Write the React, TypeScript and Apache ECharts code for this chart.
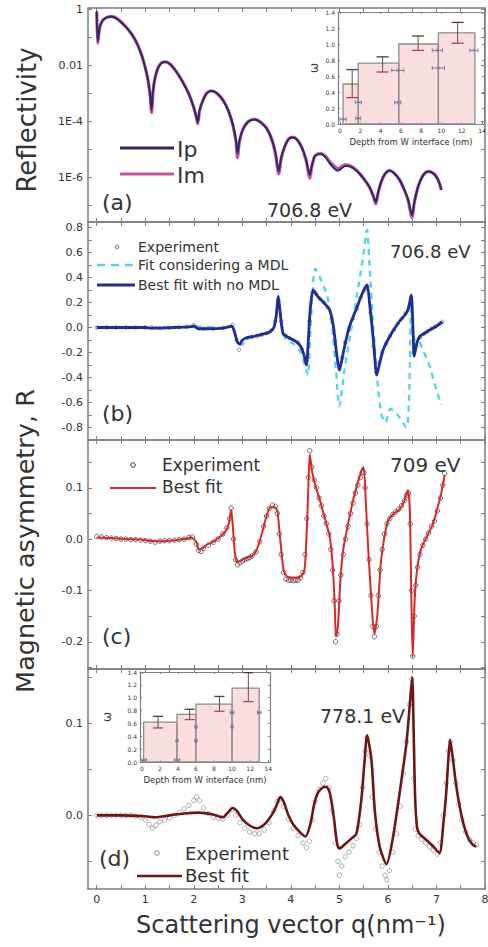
import React, { useEffect, useRef } from 'react';
import * as echarts from 'echarts';

// ---------- tick values ----------
const Q_LABELS = [0, 1, 2, 3, 4, 5, 6, 7, 8];
const Q_TICKS = [0, 0.5, 1, 1.5, 2, 2.5, 3, 3.5, 4, 4.5, 5, 5.5, 6, 6.5, 7, 7.5, 8];
const REFL_LABELS = [1, 0.01, 1e-4, 1e-6];
const REFL_TICKS = [1, 0.1, 0.01, 1e-3, 1e-4, 1e-5, 1e-6, 1e-7];
const B_LABELS = [-0.8, -0.6, -0.4, -0.2, 0, 0.2, 0.4, 0.6, 0.8];
const B_TICKS = [-0.9, -0.8, -0.7, -0.6, -0.5, -0.4, -0.3, -0.2, -0.1, 0, 0.1, 0.2, 0.3, 0.4, 0.5, 0.6, 0.7, 0.8];
const C_LABELS = [-0.2, -0.1, 0, 0.1];
const C_TICKS = [-0.25, -0.2, -0.15, -0.1, -0.05, 0, 0.05, 0.1, 0.15];
const D_LABELS = [0, 0.1];
const D_TICKS = [-0.05, 0, 0.05, 0.1, 0.15];
const DEPTH_LABELS = [0, 2, 4, 6, 8, 10, 12, 14];
const OMEGA_LABELS = [0, 0.2, 0.4, 0.6, 0.8, 1.0, 1.2, 1.4];

// ---------- panel (a): reflectivity ----------
const reflIp = [
  [0.0, 0.85], [0.02, 0.07], [0.06, 0.22], [0.12, 0.4], [0.2, 0.5], [0.3, 0.54], [0.42, 0.45], [0.55, 0.28],
  [0.68, 0.16], [0.8, 0.075], [0.9, 0.03], [0.98, 0.011], [1.05, 0.0035], [1.1, 0.0009], [1.13, 2.5e-4],
  [1.16, 0.0012], [1.2, 0.0035], [1.27, 0.0085], [1.35, 0.0125], [1.42, 0.013], [1.52, 0.0105], [1.64, 0.0058],
  [1.77, 0.0025], [1.9, 9e-4], [1.99, 3.5e-4], [2.05, 1.5e-4], [2.08, 9e-5], [2.12, 2.5e-4], [2.19, 5.5e-4],
  [2.27, 1e-3], [2.36, 1.2e-3], [2.47, 1e-3], [2.6, 5.6e-4], [2.72, 2.2e-4], [2.81, 7e-5], [2.87, 2e-5],
  [2.9, 7e-6], [2.94, 2e-5], [3.01, 5e-5], [3.12, 9.5e-5], [3.25, 1.15e-4], [3.38, 9e-5], [3.5, 5.5e-5],
  [3.61, 2.2e-5], [3.68, 8e-6], [3.75, 1.6e-6], [3.8, 5e-6], [3.87, 1.2e-5], [3.95, 2.2e-5], [4.03, 2.6e-5],
  [4.12, 2.2e-5], [4.22, 1.2e-5], [4.31, 4.5e-6], [4.36, 1.8e-6], [4.39, 1.2e-6], [4.43, 2.5e-6], [4.49, 5.4e-6],
  [4.56, 6.5e-6], [4.63, 6.6e-6], [4.72, 5e-6], [4.8, 3.1e-6], [4.9, 2e-6], [4.97, 1.7e-6], [5.05, 2.1e-6],
  [5.12, 2.5e-6], [5.18, 2.5e-6], [5.3, 2e-6], [5.41, 1.35e-6], [5.52, 8e-7], [5.62, 4.5e-7], [5.7, 2.2e-7],
  [5.75, 1.3e-7], [5.8, 3e-7], [5.86, 6.8e-7], [5.94, 1.3e-6], [6.03, 1.7e-6], [6.12, 1.4e-6], [6.24, 8e-7],
  [6.34, 3.5e-7], [6.42, 1.5e-7], [6.47, 6e-8], [6.5, 4.4e-8], [6.54, 1.2e-7], [6.62, 4.5e-7], [6.72, 1.1e-6],
  [6.82, 1.55e-6], [6.92, 1.4e-6], [7.0, 1e-6], [7.06, 6e-7], [7.1, 3.5e-7],
];
const reflIm = [
  [0.0, 0.8], [0.02, 0.06], [0.06, 0.21], [0.12, 0.39], [0.2, 0.5], [0.3, 0.55], [0.42, 0.46], [0.55, 0.29],
  [0.68, 0.16], [0.8, 0.076], [0.9, 0.031], [0.98, 0.011], [1.05, 0.0033], [1.1, 0.0008], [1.13, 2.0e-4],
  [1.16, 0.0011], [1.2, 0.0034], [1.27, 0.0086], [1.35, 0.0127], [1.42, 0.0132], [1.52, 0.0106], [1.64, 0.0059],
  [1.77, 0.0026], [1.9, 9.2e-4], [1.99, 3.4e-4], [2.05, 1.4e-4], [2.08, 8e-5], [2.12, 2.4e-4], [2.19, 5.6e-4],
  [2.27, 1.02e-3], [2.36, 1.22e-3], [2.47, 1.02e-3], [2.6, 5.7e-4], [2.72, 2.2e-4], [2.81, 6.5e-5], [2.87, 1.8e-5],
  [2.9, 5e-6], [2.94, 1.8e-5], [3.01, 5e-5], [3.12, 9.7e-5], [3.25, 1.17e-4], [3.38, 9.2e-5], [3.5, 5.6e-5],
  [3.61, 2.1e-5], [3.68, 7e-6], [3.75, 1.3e-6], [3.8, 4.5e-6], [3.87, 1.2e-5], [3.95, 2.3e-5], [4.03, 2.7e-5],
  [4.12, 2.3e-5], [4.22, 1.2e-5], [4.31, 4.2e-6], [4.36, 1.5e-6], [4.39, 9e-7], [4.43, 2.3e-6], [4.49, 5.6e-6],
  [4.56, 6.8e-6], [4.63, 7e-6], [4.72, 5.4e-6], [4.8, 3.6e-6], [4.9, 2.4e-6], [4.97, 2.0e-6], [5.05, 2.4e-6],
  [5.12, 2.8e-6], [5.18, 2.7e-6], [5.3, 2.1e-6], [5.41, 1.4e-6], [5.52, 8e-7], [5.62, 4.3e-7], [5.7, 2e-7],
  [5.75, 1.1e-7], [5.8, 2.8e-7], [5.86, 6.6e-7], [5.94, 1.3e-6], [6.03, 1.75e-6], [6.12, 1.45e-6], [6.24, 8e-7],
  [6.34, 3.4e-7], [6.42, 1.4e-7], [6.47, 5e-8], [6.5, 3.6e-8], [6.54, 1.1e-7], [6.62, 4.5e-7], [6.72, 1.15e-6],
  [6.82, 1.6e-6], [6.92, 1.45e-6], [7.0, 1.05e-6], [7.06, 6.2e-7], [7.1, 3.6e-7],
];

// ---------- panel (b): 706.8 eV asymmetry ----------
const bExperiment = [
  [0.0, 0.0], [0.2, 0.0], [0.4, 0.0], [0.6, 0.0], [0.8, 0.0], [1.0, 0.0], [1.13, 0.0], [1.3, -0.005], [1.5, -0.003],
  [1.7, 0.0], [1.85, 0.005], [2.0, 0.02], [2.1, -0.005], [2.2, -0.01], [2.4, -0.008], [2.6, -0.003], [2.8, 0.02],
  [2.88, -0.1], [2.93, -0.18], [3.0, -0.13], [3.1, -0.085], [3.2, -0.075], [3.3, -0.07], [3.4, -0.058], [3.5, -0.045],
  [3.6, -0.02], [3.68, 0.05], [3.74, 0.22], [3.8, 0.05], [3.88, -0.06], [3.97, -0.085], [4.05, -0.1], [4.15, -0.12],
  [4.22, -0.17], [4.3, -0.28], [4.38, 0.05], [4.45, 0.28], [4.52, 0.27], [4.6, 0.23], [4.68, 0.2], [4.76, 0.16],
  [4.84, 0.07], [4.9, -0.1], [4.96, -0.28], [5.0, -0.33], [5.06, -0.24], [5.12, -0.12], [5.2, -0.02], [5.28, 0.07],
  [5.36, 0.15], [5.44, 0.24], [5.52, 0.3], [5.58, 0.33], [5.64, 0.12], [5.7, -0.15], [5.76, -0.36], [5.82, -0.28],
  [5.88, -0.2], [5.96, -0.13], [6.04, -0.07], [6.12, -0.02], [6.2, 0.03], [6.28, 0.07], [6.36, 0.11], [6.44, 0.17],
  [6.48, 0.24], [6.53, -0.2], [6.58, -0.14], [6.66, -0.08], [6.74, -0.05], [6.82, -0.03], [6.9, -0.01], [6.98, 0.01],
  [7.06, 0.03], [7.12, 0.045],
];
const bFitMDL = [
  [0, 0], [1.0, 0.0], [2.0, 0.01], [2.6, -0.005], [2.78, 0.01], [2.9, -0.12], [2.97, -0.14], [3.1, -0.09], [3.3, -0.07],
  [3.5, -0.05], [3.65, 0.0], [3.74, 0.2], [3.8, 0.05], [3.9, -0.1], [4.05, -0.13], [4.2, -0.2], [4.3, -0.32],
  [4.35, -0.38], [4.42, 0.1], [4.5, 0.47], [4.6, 0.4], [4.75, 0.25], [4.85, 0.0], [4.93, -0.35], [5.0, -0.63],
  [5.1, -0.35], [5.25, 0.0], [5.4, 0.35], [5.5, 0.6], [5.57, 0.78], [5.62, 0.5], [5.7, 0.0], [5.8, -0.5], [5.87, -0.7],
  [5.95, -0.76], [6.05, -0.65], [6.2, -0.7], [6.38, -0.8], [6.44, -0.5], [6.48, 0.2], [6.53, -0.1], [6.62, -0.1],
  [6.72, -0.18], [6.85, -0.3], [7.0, -0.5], [7.1, -0.62],
];
const bBestFit = [
  [0, 0], [0.5, 0], [1.0, 0.0], [1.13, -0.005], [1.3, -0.005], [1.6, 0.0], [1.9, 0.005], [2.0, 0.01], [2.1, -0.01],
  [2.3, -0.01], [2.6, -0.005], [2.78, 0.01], [2.85, -0.05], [2.9, -0.12], [2.95, -0.13], [3.0, -0.1], [3.1, -0.08],
  [3.25, -0.07], [3.4, -0.055], [3.55, -0.04], [3.65, 0.0], [3.7, 0.1], [3.74, 0.25], [3.78, 0.12], [3.84, -0.05],
  [3.95, -0.08], [4.1, -0.11], [4.2, -0.15], [4.27, -0.22], [4.32, -0.3], [4.36, -0.1], [4.4, 0.15], [4.46, 0.3],
  [4.55, 0.25], [4.7, 0.19], [4.8, 0.14], [4.88, 0.0], [4.94, -0.2], [5.0, -0.34], [5.08, -0.2], [5.2, 0.0],
  [5.35, 0.15], [5.48, 0.28], [5.57, 0.34], [5.62, 0.2], [5.7, -0.1], [5.77, -0.38], [5.82, -0.3], [5.9, -0.18],
  [5.97, -0.12], [6.1, -0.03], [6.24, 0.05], [6.35, 0.1], [6.42, 0.15], [6.48, 0.26], [6.52, -0.05], [6.54, -0.23],
  [6.6, -0.12], [6.66, -0.07], [6.78, -0.04], [6.9, -0.01], [7.0, 0.01], [7.12, 0.045],
];

// ---------- panel (c): 709 eV ----------
const cExperiment = [
  [0, 0.005], [0.1, 0.004], [0.2, 0.003], [0.3, 0.002], [0.4, 0.001], [0.5, 0.0], [0.6, 0.0], [0.7, -0.001],
  [0.8, -0.001], [0.9, -0.002], [1.0, -0.003], [1.1, -0.004], [1.2, -0.006], [1.3, -0.004], [1.4, -0.003],
  [1.5, -0.003], [1.6, -0.002], [1.7, -0.001], [1.8, 0.0], [1.9, 0.003], [1.97, 0.004], [2.05, -0.01], [2.1, -0.022],
  [2.15, -0.024], [2.2, -0.018], [2.3, -0.012], [2.4, -0.006], [2.5, 0.0], [2.6, 0.01], [2.68, 0.022], [2.74, 0.04],
  [2.77, 0.06], [2.82, 0.0], [2.86, -0.04], [2.9, -0.05], [2.95, -0.046], [3.0, -0.043], [3.05, -0.04], [3.1, -0.038],
  [3.15, -0.036], [3.2, -0.033], [3.28, -0.025], [3.36, -0.005], [3.44, 0.025], [3.5, 0.045], [3.56, 0.06],
  [3.62, 0.066], [3.68, 0.064], [3.72, 0.05], [3.76, 0.01], [3.8, -0.03], [3.85, -0.065], [3.9, -0.078], [3.95, -0.08],
  [4.0, -0.08], [4.05, -0.081], [4.1, -0.08], [4.15, -0.08], [4.2, -0.075], [4.25, -0.065], [4.29, -0.03],
  [4.33, 0.04], [4.36, 0.12], [4.39, 0.172], [4.43, 0.14], [4.48, 0.115], [4.53, 0.1], [4.58, 0.08], [4.63, 0.065],
  [4.68, 0.045], [4.73, 0.03], [4.78, 0.01], [4.82, -0.02], [4.86, -0.06], [4.89, -0.12], [4.92, -0.2], [4.95, -0.185],
  [4.99, -0.12], [5.03, -0.07], [5.08, -0.03], [5.13, 0.0], [5.18, 0.025], [5.23, 0.05], [5.28, 0.07], [5.33, 0.09],
  [5.38, 0.105], [5.43, 0.12], [5.47, 0.13], [5.5, 0.13], [5.53, 0.1], [5.57, 0.03], [5.61, -0.04], [5.65, -0.11],
  [5.69, -0.17], [5.72, -0.19], [5.76, -0.17], [5.8, -0.11], [5.84, -0.06], [5.88, -0.02], [5.93, 0.01], [5.98, 0.03],
  [6.04, 0.04], [6.1, 0.048], [6.16, 0.053], [6.22, 0.058], [6.28, 0.065], [6.34, 0.075], [6.38, 0.085], [6.42, 0.09],
  [6.46, 0.03], [6.49, -0.1], [6.51, -0.228], [6.54, -0.15], [6.57, -0.09], [6.61, -0.055], [6.66, -0.03],
  [6.72, -0.012], [6.78, 0.0], [6.84, 0.012], [6.9, 0.025], [6.96, 0.035], [7.02, 0.055], [7.08, 0.08], [7.13, 0.105],
  [7.17, 0.128],
];
const cBestFit = [
  [0, 0.003], [0.3, 0.002], [0.6, 0.0], [0.9, -0.001], [1.2, -0.004], [1.5, -0.003], [1.8, 0.0], [1.95, 0.003],
  [2.05, -0.005], [2.1, -0.02], [2.15, -0.02], [2.25, -0.012], [2.4, -0.005], [2.55, 0.005], [2.65, 0.015],
  [2.72, 0.03], [2.77, 0.057], [2.8, 0.03], [2.85, -0.03], [2.9, -0.045], [3.0, -0.04], [3.1, -0.036], [3.2, -0.033],
  [3.3, -0.02], [3.4, 0.01], [3.5, 0.045], [3.58, 0.062], [3.66, 0.062], [3.72, 0.055], [3.78, 0.0], [3.85, -0.06],
  [3.92, -0.073], [4.05, -0.075], [4.2, -0.073], [4.28, -0.06], [4.32, 0.0], [4.36, 0.1], [4.39, 0.165], [4.44, 0.13],
  [4.52, 0.1], [4.6, 0.075], [4.7, 0.04], [4.8, 0.005], [4.86, -0.05], [4.9, -0.12], [4.93, -0.19], [4.97, -0.17],
  [5.02, -0.08], [5.08, -0.02], [5.18, 0.03], [5.28, 0.075], [5.38, 0.11], [5.46, 0.135], [5.5, 0.14], [5.54, 0.08],
  [5.6, -0.03], [5.66, -0.12], [5.72, -0.185], [5.78, -0.15], [5.85, -0.05], [5.92, 0.0], [6.0, 0.035], [6.12, 0.05],
  [6.24, 0.058], [6.34, 0.075], [6.41, 0.095], [6.45, 0.06], [6.48, -0.1], [6.51, -0.23], [6.55, -0.12], [6.6, -0.06],
  [6.68, -0.02], [6.8, 0.005], [6.93, 0.03], [7.02, 0.06], [7.1, 0.09], [7.17, 0.125],
];

// ---------- panel (d): 778.1 eV ----------
const dExperiment = [
  [0, 0.0], [0.1, 0.0], [0.2, 0.0], [0.3, 0.0], [0.4, 0.0], [0.5, 0.0], [0.6, 0.0], [0.7, 0.0], [0.8, -0.001],
  [0.9, -0.002], [1.0, -0.005], [1.08, -0.01], [1.15, -0.014], [1.22, -0.011], [1.3, -0.007], [1.4, -0.005],
  [1.5, -0.003], [1.6, 0.0], [1.7, 0.003], [1.8, 0.007], [1.9, 0.011], [2.0, 0.016], [2.06, 0.02], [2.12, 0.016],
  [2.2, 0.008], [2.3, 0.002], [2.4, -0.002], [2.5, -0.003], [2.6, -0.004], [2.7, 0.0], [2.78, 0.006], [2.86, 0.0],
  [2.95, -0.008], [3.05, -0.014], [3.15, -0.018], [3.25, -0.02], [3.35, -0.02], [3.45, -0.016], [3.55, -0.008],
  [3.65, 0.005], [3.72, 0.015], [3.78, 0.018], [3.85, 0.01], [3.95, -0.004], [4.05, -0.014], [4.15, -0.022],
  [4.25, -0.03], [4.32, -0.035], [4.38, -0.028], [4.44, -0.005], [4.5, 0.015], [4.58, 0.028], [4.66, 0.035],
  [4.72, 0.04], [4.78, 0.03], [4.85, 0.005], [4.92, -0.03], [4.97, -0.05], [5.0, -0.065], [5.05, -0.055],
  [5.12, -0.045], [5.2, -0.04], [5.28, -0.033], [5.35, -0.025], [5.42, -0.01], [5.48, 0.03], [5.53, 0.07],
  [5.57, 0.084], [5.62, 0.065], [5.68, 0.02], [5.75, -0.015], [5.82, -0.04], [5.88, -0.055], [5.94, -0.065],
  [5.98, -0.07], [6.03, -0.06], [6.1, -0.04], [6.18, -0.02], [6.25, 0.01], [6.32, 0.045], [6.38, 0.08], [6.44, 0.12],
  [6.49, 0.148], [6.53, 0.04], [6.57, -0.015], [6.62, -0.022], [6.7, -0.026], [6.78, -0.03], [6.86, -0.034],
  [6.94, -0.038], [7.02, -0.042], [7.08, -0.03], [7.14, 0.0], [7.2, 0.035], [7.25, 0.07], [7.29, 0.08], [7.34, 0.06],
  [7.4, 0.035], [7.46, 0.012], [7.52, -0.005], [7.6, -0.018], [7.68, -0.026], [7.76, -0.03], [7.82, -0.032],
];
const dBestFit = [
  [0, 0.0], [0.5, 0.0], [1.0, -0.001], [1.2, -0.002], [1.5, 0.0], [1.8, 0.002], [2.1, 0.003], [2.4, 0.001],
  [2.6, -0.002], [2.7, 0.003], [2.8, 0.008], [2.9, 0.004], [3.0, -0.004], [3.15, -0.011], [3.3, -0.014],
  [3.45, -0.01], [3.6, 0.0], [3.7, 0.01], [3.78, 0.02], [3.85, 0.015], [3.95, 0.0], [4.05, -0.01], [4.18, -0.018],
  [4.3, -0.023], [4.4, -0.01], [4.48, 0.012], [4.56, 0.025], [4.65, 0.03], [4.73, 0.031], [4.8, 0.025], [4.88, 0.0],
  [4.95, -0.03], [5.0, -0.036], [5.1, -0.032], [5.25, -0.025], [5.35, -0.02], [5.45, 0.016], [5.52, 0.06],
  [5.57, 0.087], [5.66, 0.06], [5.73, 0.005], [5.83, -0.034], [5.97, -0.053], [6.1, -0.025], [6.24, 0.024],
  [6.38, 0.078], [6.45, 0.12], [6.5, 0.15], [6.53, 0.09], [6.56, 0.02], [6.6, -0.013], [6.65, -0.02], [6.8, -0.027],
  [6.92, -0.033], [7.06, -0.041], [7.14, -0.01], [7.2, 0.024], [7.25, 0.065], [7.28, 0.082], [7.33, 0.065],
  [7.4, 0.035], [7.48, 0.009], [7.56, -0.01], [7.65, -0.024], [7.75, -0.032], [7.82, -0.034],
];

// ---------- insets: omega vs depth ----------
// [x0, x1, omega]
const insetABars = [[0.3, 1.8, 0.5], [1.8, 5.8, 0.76], [5.8, 9.7, 1.0], [9.7, 13.3, 1.14]];
// [x, low, high]
const insetAErrors = [[1.2, 0.33, 0.68], [4.2, 0.65, 0.84], [7.7, 0.92, 1.1], [11.6, 1.01, 1.27]];
// [x, y, half width]
const insetAMarks = [[0.3, 0.06, 0.3], [1.8, 0.07, 0.25], [1.8, 0.27, 0.3], [5.7, 0.67, 0.6], [5.7, 0.27, 0.3],
  [9.6, 0.92, 0.5], [9.7, 0.7, 0.6], [13.2, 0.92, 0.4]];
const insetDBars = [[0.2, 3.9, 0.62], [3.9, 6.0, 0.74], [6.0, 10.0, 0.9], [10.0, 13.0, 1.15]];
const insetDErrors = [[1.8, 0.53, 0.71], [5.3, 0.66, 0.82], [8.6, 0.79, 1.02], [11.8, 0.94, 1.39]];
const insetDMarks = [[0.2, 0.03, 0.3], [3.9, 0.03, 0.3], [3.9, 0.33, 0.1], [6.0, 0.55, 0.1], [6.0, 0.33, 0.1],
  [10.0, 0.77, 0.2], [10.0, 0.55, 0.1], [13.0, 0.77, 0.2]];

const FONT = "'DejaVu Sans', sans-serif";
const FRAME = '#7d7d7d';
const TXT = '#333333';

function buildOption() {
  const grids = [
    { left: 88, right: 3, top: 8, height: 214 },
    { left: 88, right: 3, top: 222, height: 218 },
    { left: 88, right: 3, top: 440, height: 229 },
    { left: 88, right: 3, top: 669, height: 220 },
    { left: 338, width: 146, top: 12, height: 112 },
    { left: 140, width: 130, top: 672, height: 90 },
  ].map((g) => ({ ...g, outerBoundsMode: 'none', containLabel: false }));

  const axisLine = (w = 1.5) => ({ show: true, onZero: false, lineStyle: { color: FRAME, width: w } });

  const mainX = (gi: number, pos: string, labels: boolean) => ({
    type: 'value', gridIndex: gi, position: pos, min: -0.18, max: 8,
    axisLine: axisLine(), splitLine: { show: false },
    axisTick: { show: true, inside: true, length: 4, customValues: Q_TICKS, lineStyle: { color: FRAME } },
    axisLabel: { show: labels, customValues: Q_LABELS, fontSize: 11, fontFamily: FONT, color: TXT, margin: 5 },
  });
  const insetX = (gi: number, pos: string, labels: boolean) => ({
    type: 'value', gridIndex: gi, position: pos, min: -0.2, max: 14.2,
    axisLine: axisLine(1.2), splitLine: { show: false },
    axisTick: { show: true, inside: true, length: 2, customValues: DEPTH_LABELS, lineStyle: { color: FRAME } },
    axisLabel: { show: labels, customValues: DEPTH_LABELS, fontSize: 6, fontFamily: FONT, color: TXT, margin: 3 },
    name: labels ? 'Depth from W interface (nm)' : '', nameLocation: 'middle', nameGap: 13,
    nameTextStyle: { fontSize: 8.5, fontFamily: FONT, color: TXT },
  });
  const valY = (gi: number, pos: string, min: number, max: number, labels: number[], ticks: number[], show: boolean) => ({
    type: 'value', gridIndex: gi, position: pos, min, max,
    axisLine: axisLine(), splitLine: { show: false },
    axisTick: { show: true, inside: true, length: 4, customValues: ticks, lineStyle: { color: FRAME } },
    axisLabel: { show, customValues: labels, fontSize: 11, fontFamily: FONT, color: TXT, margin: 5,
      formatter: (v: number) => v.toFixed(1) },
  });
  const logY = (pos: string, show: boolean) => ({
    type: 'log', logBase: 10, gridIndex: 0, position: pos, min: 2.5e-8, max: 1.1,
    axisLine: axisLine(), splitLine: { show: false }, minorTick: { show: false },
    axisTick: { show: true, inside: true, length: 4, customValues: REFL_TICKS, lineStyle: { color: FRAME } },
    axisLabel: { show, customValues: REFL_LABELS, fontSize: 11, fontFamily: FONT, color: TXT, margin: 5,
      formatter: (v: number) => (v > 0.5 ? '1' : v > 0.005 ? '0.01' : '1E' + Math.round(Math.log10(v))) },
  });
  const insetY = (gi: number, pos: string, labels: boolean, gap: number) => ({
    type: 'value', gridIndex: gi, position: pos, min: 0, max: 1.4,
    axisLine: axisLine(1.2), splitLine: { show: false },
    axisTick: { show: true, inside: true, length: 2, customValues: OMEGA_LABELS, lineStyle: { color: FRAME } },
    axisLabel: { show: labels, customValues: OMEGA_LABELS, fontSize: 6, fontFamily: FONT, color: TXT, margin: 3,
      formatter: (v: number) => v.toFixed(1) },
    name: labels ? 'ω' : '', nameLocation: 'middle', nameGap: gap, nameRotate: 90,
    nameTextStyle: { fontSize: 12, fontFamily: FONT, color: TXT },
  });

  const xAxis = [
    mainX(0, 'bottom', false), mainX(1, 'bottom', false), mainX(2, 'bottom', false), mainX(3, 'bottom', true),
    mainX(0, 'top', false), mainX(1, 'top', false), mainX(2, 'top', false), mainX(3, 'top', false),
    insetX(4, 'bottom', true), insetX(5, 'bottom', true), insetX(4, 'top', false), insetX(5, 'top', false),
  ];
  const yAxis = [
    logY('left', true),
    valY(1, 'left', -0.9, 0.844, B_LABELS, B_TICKS, true),
    valY(2, 'left', -0.253, 0.193, C_LABELS, C_TICKS, true),
    valY(3, 'left', -0.08, 0.159, D_LABELS, D_TICKS, true),
    logY('right', false),
    valY(1, 'right', -0.9, 0.844, B_LABELS, B_TICKS, false),
    valY(2, 'right', -0.253, 0.193, C_LABELS, C_TICKS, false),
    valY(3, 'right', -0.08, 0.159, D_LABELS, D_TICKS, false),
    insetY(4, 'left', true, 18), insetY(5, 'left', true, 27), insetY(4, 'right', false, 0), insetY(5, 'right', false, 0),
  ];

  const barRender = (_p: any, api: any) => {
    const a = api.coord([api.value(0), api.value(2)]);
    const b = api.coord([api.value(1), 0]);
    return { type: 'rect', shape: { x: a[0], y: a[1], width: b[0] - a[0], height: b[1] - a[1] },
      style: { fill: 'rgba(248,200,200,0.6)', stroke: '#8c8c8c', lineWidth: 1.3 } };
  };
  const errRender = (cap: number) => (_p: any, api: any) => {
    const x = api.value(0);
    const lo = api.coord([x, api.value(1)]);
    const hi = api.coord([x, api.value(2)]);
    return { type: 'group', children: [
      { type: 'line', shape: { x1: lo[0], y1: lo[1], x2: hi[0], y2: hi[1] }, style: { stroke: '#6a4a4a', lineWidth: 1 } },
      { type: 'line', shape: { x1: hi[0] - cap, y1: hi[1], x2: hi[0] + cap, y2: hi[1] }, style: { stroke: '#5a3a3a', lineWidth: 1.3 } },
      { type: 'line', shape: { x1: lo[0] - cap, y1: lo[1], x2: lo[0] + cap, y2: lo[1] }, style: { stroke: '#b04444', lineWidth: 1.3 } },
    ] };
  };
  const markRender = (_p: any, api: any) => {
    const x = api.value(0), y = api.value(1), hw = api.value(2);
    const l = api.coord([x - hw, y]);
    const r = api.coord([x + hw, y]);
    const c = api.coord([x, y]);
    const st = { stroke: '#7a78a8', lineWidth: 1 };
    return { type: 'group', children: [
      { type: 'line', shape: { x1: l[0], y1: l[1], x2: r[0], y2: r[1] }, style: st },
      { type: 'line', shape: { x1: l[0], y1: l[1] - 2, x2: l[0], y2: l[1] + 2 }, style: st },
      { type: 'line', shape: { x1: r[0], y1: r[1] - 2, x2: r[0], y2: r[1] + 2 }, style: st },
      { type: 'circle', shape: { cx: c[0], cy: c[1], r: 1.3 }, style: { fill: 'none', stroke: '#7a78a8', lineWidth: 0.8 } },
    ] };
  };

  const line = (data: number[][], xi: number, yi: number, color: string, width: number, extra: any = {}) => ({
    type: 'line', xAxisIndex: xi, yAxisIndex: yi, data, showSymbol: false, symbol: 'none', smooth: 0.25,
    lineStyle: { color, width, ...(extra.lineStyle || {}) }, z: extra.z || 3, clip: true,
  });
  const scatter = (data: number[][], xi: number, yi: number, color: string, size: number) => ({
    type: 'scatter', xAxisIndex: xi, yAxisIndex: yi, data, symbol: 'circle', symbolSize: size,
    itemStyle: { color: 'rgba(255,255,255,0)', borderColor: color, borderWidth: 0.9 }, z: 2,
  });

  const series: any[] = [
    line(reflIm, 0, 0, '#c9529a', 3.2, { z: 3 }),
    line(reflIp, 0, 0, '#2c2b66', 2, { z: 4 }),
    scatter(bExperiment, 1, 1, '#666', 3.5),
    line(bFitMDL, 1, 1, '#52d3e6', 2.3, { lineStyle: { type: [6, 5] }, z: 3 }),
    line(bBestFit, 1, 1, '#1f2e96', 2.8, { z: 4 }),
    scatter(cExperiment, 2, 2, '#333', 4.5),
    line(cBestFit, 2, 2, '#d8282c', 2, { z: 3 }),
    scatter(dExperiment, 3, 3, '#888', 4.5),
    line(dBestFit, 3, 3, '#6e1515', 2.6, { z: 3 }),
    { type: 'custom', xAxisIndex: 8, yAxisIndex: 8, data: insetABars, renderItem: barRender, z: 2 },
    { type: 'custom', xAxisIndex: 8, yAxisIndex: 8, data: insetAErrors, renderItem: errRender(6), z: 3 },
    { type: 'custom', xAxisIndex: 8, yAxisIndex: 8, data: insetAMarks, renderItem: markRender, z: 3 },
    { type: 'custom', xAxisIndex: 9, yAxisIndex: 9, data: insetDBars, renderItem: barRender, z: 2 },
    { type: 'custom', xAxisIndex: 9, yAxisIndex: 9, data: insetDErrors, renderItem: errRender(5), z: 3 },
    { type: 'custom', xAxisIndex: 9, yAxisIndex: 9, data: insetDMarks, renderItem: markRender, z: 3 },
  ];

  const txt = (text: string, x: number, y: number, size: number, extra: any = {}) => ({
    type: 'text', x, y, rotation: extra.rotation || 0, z: 10,
    style: { text, fontSize: size, fontFamily: FONT, fill: extra.fill || TXT,
      align: extra.align || 'left', verticalAlign: 'middle',
      textAlign: extra.align || 'left', textVerticalAlign: 'middle' },
  });
  const seg = (x1: number, y1: number, x2: number, y2: number, color: string, w: number, dash?: number[]) => ({
    type: 'line', z: 10, shape: { x1, y1, x2, y2 }, style: { stroke: color, lineWidth: w, lineDash: dash },
  });
  const ring = (cx: number, cy: number, r: number, color: string) => ({
    type: 'circle', z: 10, shape: { cx, cy, r }, style: { fill: 'none', stroke: color, lineWidth: 1 },
  });

  const graphic = [
    txt('Reflectivity', 27, 120, 26, { rotation: Math.PI / 2, align: 'center' }),
    txt('Magnetic asymmetry, R', 25, 541, 25.5, { rotation: Math.PI / 2, align: 'center' }),
    txt('Scattering vector q(nm⁻¹)', 291, 925, 24, { align: 'center' }),
    // panel (a)
    seg(120, 148, 174, 148, '#2c2b66', 3),
    txt('Ip', 177, 149, 22),
    seg(120, 174, 174, 174, '#c9529a', 3),
    txt('Im', 177, 175, 22),
    txt('(a)', 102, 202, 22),
    txt('706.8 eV', 267, 210, 19),
    // panel (b)
    ring(117, 247, 1.8, '#666'),
    txt('Experiment', 138, 247, 14),
    seg(97, 265, 135, 265, '#52d3e6', 2.3, [8, 6]),
    txt('Fit considering a MDL', 138, 265, 14),
    seg(97, 285, 135, 285, '#1f2e96', 2.8),
    txt('Best fit with no MDL', 138, 285, 14),
    txt('706.8 eV', 390, 251, 18),
    txt('(b)', 102, 413, 22),
    // panel (c)
    ring(133, 465, 2.3, '#333'),
    txt('Experiment', 162, 465, 17),
    seg(110, 488, 156, 488, '#d8282c', 2),
    txt('Best fit', 162, 487, 17),
    txt('709 eV', 390, 465, 20),
    txt('(c)', 102, 636, 22),
    // panel (d)
    txt('778.1 eV', 320, 716, 19),
    txt('(d)', 99, 858, 22),
    ring(157, 853, 2.3, '#888'),
    txt('Experiment', 185, 853, 18),
    seg(137, 876, 182, 876, '#6e1515', 2.6),
    txt('Best fit', 185, 875, 18),
  ];

  return {
    animation: false,
    backgroundColor: '#ffffff',
    grid: grids,
    xAxis,
    yAxis,
    series,
    graphic,
  };
}

export default function App() {
  const ref = useRef<HTMLDivElement>(null);
  useEffect(() => {
    document.body.style.margin = '0';
    document.body.style.overflow = 'hidden';
    const chart = echarts.init(ref.current as HTMLDivElement, null, { renderer: 'svg' });
    chart.setOption(buildOption() as any);
    return () => chart.dispose();
  }, []);
  return <div ref={ref} style={{ width: 488, height: 947 }} />;
}
